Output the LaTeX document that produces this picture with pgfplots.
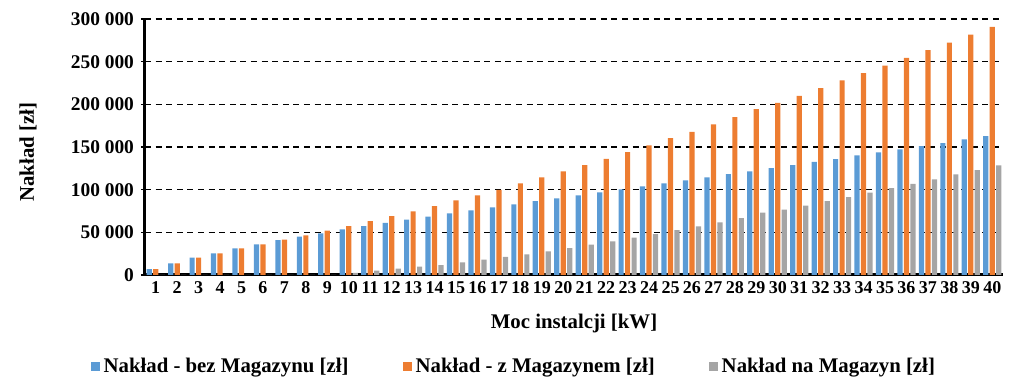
\documentclass[border=0pt]{standalone}
\usepackage{fontspec}
\setmainfont{Liberation Serif}
\usepackage{pgfplots}
\usepackage{pgfplotstable}
\pgfplotsset{compat=1.18}
\definecolor{cblue}{HTML}{5B9BD5}
\definecolor{corange}{HTML}{ED7D31}
\definecolor{cgray}{HTML}{A5A5A5}
\pgfplotstableread{
x blue orange gray
1 7000 7000 0
2 13700 13700 0
3 20300 20300 0
4 25400 25400 0
5 31200 31200 0
6 35900 35900 0
7 41000 41500 0
8 44900 46500 0
9 48800 51900 0
10 53500 57400 2500
11 57400 63200 5000
12 61200 69100 7400
13 64800 74600 9700
14 68300 80800 11700
15 72200 87400 14900
16 75700 93300 17900
17 79300 99900 21100
18 82800 107300 24200
19 86700 114300 27800
20 89800 121400 31600
21 93300 128800 35500
22 96800 136200 39500
23 100400 144000 43700
24 103900 151900 48000
25 107500 160400 52500
26 110900 167800 57000
27 114400 176500 61700
28 118300 185000 66700
29 121400 194400 73000
30 125300 201800 76500
31 128800 210000 81200
32 132700 219000 86700
33 135800 228000 91400
34 140100 236500 96400
35 143700 245500 101900
36 147200 254300 106900
37 151100 263500 112000
38 154600 272400 117900
39 158900 281700 123000
40 162800 290900 128400
}\datatable
\begin{document}
\begin{tikzpicture}
\path[use as bounding box] (-72.5pt,-58pt) rectangle (439.5pt,137.5pt);
\begin{axis}[
  at={(0,0)}, anchor=south west,
  scale only axis,
  width=429pt, height=128pt,
  ybar=0.65pt, bar width=2.6pt,
  xmin=0.5, xmax=40.5,
  ymin=0, ymax=300000,
  scaled y ticks=false,
  axis x line*=bottom, axis y line*=left,
  axis line style={line width=1.5pt, black},
  xtick={1,...,40},
  x tick style={draw=none},
  ytick={0,50000,100000,150000,200000,250000,300000},
  yticklabels={0,50 000,100 000,150 000,200 000,250 000,300 000},
  y tick style={black, line width=0.6pt},
  major tick length=2pt,
  tick align=outside,
  ymajorgrids,
  major grid style={black, line width=0.6pt, dash pattern=on 3pt off 2.3pt},
  x tick label style={font=\fontsize{9}{10}\selectfont\bfseries, inner sep=1pt},
  y tick label style={font=\fontsize{9.7}{11}\selectfont\bfseries},
  /pgf/number format/assume math mode=true,
  xlabel={Moc instalcji [kW]},
  ylabel={Nakład [zł]},
  xlabel style={font=\fontsize{10.4}{12}\selectfont\bfseries, at={(axis description cs:0.5,-0.1875)}, anchor=center},
  ylabel style={font=\fontsize{10.4}{12}\selectfont\bfseries, at={(axis description cs:-0.1364,0.48)}, anchor=center},
  legend columns=3,
  legend style={draw=none, fill=none, at={(0.431,-0.359)}, anchor=center,
    font=\fontsize{10.4}{12}\selectfont\bfseries,
    /tikz/every even column/.append style={column sep=25pt}},
  legend image code/.code={\fill[#1] (0pt,-2.2pt) rectangle (4.5pt,2.3pt);},
]
\addplot[fill=cblue, draw=none] table[x=x,y=blue] {\datatable};
\addplot[fill=corange, draw=none] table[x=x,y=orange] {\datatable};
\addplot[fill=cgray, draw=none] table[x=x,y=gray] {\datatable};
\legend{Nakład - bez Magazynu [zł], Nakład - z Magazynem [zł], Nakład na Magazyn [zł]}
\end{axis}
\end{tikzpicture}
\end{document}
